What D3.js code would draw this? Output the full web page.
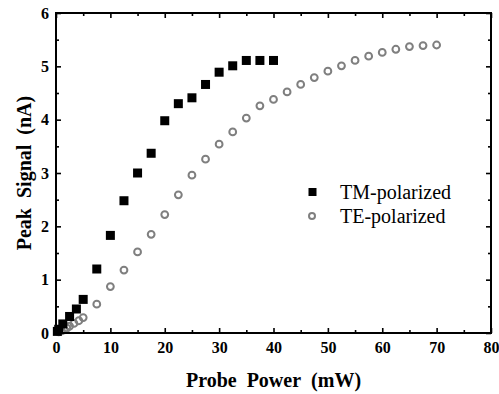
<!DOCTYPE html>
<html>
<head>
<meta charset="utf-8">
<script src="https://cdn.jsdelivr.net/npm/d3@7"></script>
</head>
<body style="margin:0">
<svg id="chart" width="499" height="394"></svg>
<script>
// ---- data ----
const tmPower  = [0.25, 0.5, 1.25, 2.5, 3.75, 5, 7.5, 10, 12.5, 15, 17.5, 20, 22.5, 25, 27.5, 30, 32.5, 35, 37.5, 40];
const tmSignal = [0.03, 0.07, 0.17, 0.31, 0.45, 0.63, 1.20, 1.83, 2.48, 3.00, 3.37, 3.98, 4.30, 4.41, 4.66, 4.89, 5.01, 5.11, 5.11, 5.11];
const tePower  = [0.5, 1, 1.5, 2, 2.5, 3.3, 4.2, 5, 7.5, 10, 12.5, 15, 17.5, 20, 22.5, 25, 27.5, 30, 32.5, 35, 37.5, 40, 42.5, 45, 47.5, 50, 52.5, 55, 57.5, 60, 62.5, 65, 67.5, 70];
const teSignal = [0.02, 0.04, 0.06, 0.09, 0.13, 0.18, 0.23, 0.29, 0.54, 0.87, 1.18, 1.52, 1.85, 2.22, 2.59, 2.96, 3.26, 3.54, 3.77, 4.03, 4.26, 4.38, 4.52, 4.66, 4.79, 4.91, 5.01, 5.11, 5.19, 5.26, 5.32, 5.37, 5.39, 5.40];
const xMajorTicks = [0, 10, 20, 30, 40, 50, 60, 70, 80];
const xMinorTicks = [5, 15, 25, 35, 45, 55, 65, 75];
const yMajorTicks = [0, 1, 2, 3, 4, 5, 6];
const yMinorTicks = [0.5, 1.5, 2.5, 3.5, 4.5, 5.5];
const seriesNames = ["TM-polarized", "TE-polarized"];
const xTitle = "Probe\u00A0\u00A0Power\u00A0\u00A0(mW)";
const yTitle = "Peak\u00A0\u00A0Signal\u00A0\u00A0(nA)";

// ---- layout ----
const FONT = "Liberation Serif";
const L = 56, R = 491, T = 13, B = 333;
const svg = d3.select("#chart");
const x = d3.scaleLinear().domain([0, 80]).range([L, R]);
const y = d3.scaleLinear().domain([0, 6]).range([B, T]);
const teColor = "#7f7f7f";

function serif(sel) {
  return sel.attr("font-family", FONT).style("font-family", FONT, "important");
}

// markers
svg.append("g").selectAll("circle").data(tePower).join("circle")
  .attr("cx", (d) => x(d))
  .attr("cy", (d, i) => y(teSignal[i]))
  .attr("r", 3.4)
  .attr("fill", "none")
  .attr("stroke", teColor)
  .attr("stroke-width", 2);

const sq = 9;
svg.append("g").selectAll("rect").data(tmPower).join("rect")
  .attr("x", (d) => x(d) - sq / 2)
  .attr("y", (d, i) => y(tmSignal[i]) - sq / 2)
  .attr("width", sq).attr("height", sq)
  .attr("fill", "#000");

// axes
function styleAxis(g) {
  serif(g);
  g.select(".domain").remove();
  g.selectAll(".tick line").attr("stroke", "#000").attr("stroke-width", 1.6);
  serif(g.selectAll("text")).attr("fill", "#000")
    .style("font-size", "16px").style("font-weight", "bold");
}
svg.append("g").attr("transform", `translate(0,${B})`)
  .call(d3.axisBottom(x).tickValues(xMajorTicks).tickFormat(d3.format("d")).tickSizeInner(-5).tickSizeOuter(0).tickPadding(9))
  .call(styleAxis);
svg.append("g").attr("transform", `translate(0,${B})`)
  .call(d3.axisBottom(x).tickValues(xMinorTicks).tickFormat("").tickSizeInner(-3).tickSizeOuter(0))
  .call(styleAxis);
svg.append("g").attr("transform", `translate(0,${T})`)
  .call(d3.axisTop(x).tickValues(xMajorTicks).tickFormat("").tickSizeInner(-5).tickSizeOuter(0))
  .call(styleAxis);
svg.append("g").attr("transform", `translate(0,${T})`)
  .call(d3.axisTop(x).tickValues(xMinorTicks).tickFormat("").tickSizeInner(-3).tickSizeOuter(0))
  .call(styleAxis);
svg.append("g").attr("transform", `translate(${L},0)`)
  .call(d3.axisLeft(y).tickValues(yMajorTicks).tickFormat(d3.format("d")).tickSizeInner(-5).tickSizeOuter(0).tickPadding(7))
  .call(styleAxis);
svg.append("g").attr("transform", `translate(${L},0)`)
  .call(d3.axisLeft(y).tickValues(yMinorTicks).tickFormat("").tickSizeInner(-3).tickSizeOuter(0))
  .call(styleAxis);
svg.append("g").attr("transform", `translate(${R},0)`)
  .call(d3.axisRight(y).tickValues(yMajorTicks).tickFormat("").tickSizeInner(-5).tickSizeOuter(0))
  .call(styleAxis);
svg.append("g").attr("transform", `translate(${R},0)`)
  .call(d3.axisRight(y).tickValues(yMinorTicks).tickFormat("").tickSizeInner(-3).tickSizeOuter(0))
  .call(styleAxis);

// frame
svg.append("rect").attr("x", L).attr("y", T).attr("width", R - L).attr("height", B - T)
  .attr("fill", "none").attr("stroke", "#000").attr("stroke-width", 2);

// titles
serif(svg.append("text")).attr("x", (L + R) / 2).attr("y", 387)
  .attr("text-anchor", "middle").style("font-size", "20px").style("font-weight", "bold").text(xTitle);
serif(svg.append("text")).attr("transform", `translate(31,${(T + B) / 2}) rotate(-90)`)
  .attr("text-anchor", "middle").style("font-size", "20px").style("font-weight", "bold").text(yTitle);

// legend
const lg = svg.append("g");
lg.append("rect").attr("x", 312.5 - 4).attr("y", 192 - 4).attr("width", 8).attr("height", 8).attr("fill", "#000");
lg.append("circle").attr("cx", 312).attr("cy", 216).attr("r", 3).attr("fill", "none").attr("stroke", teColor).attr("stroke-width", 2);
serif(lg.append("text")).attr("x", 340).attr("y", 199).style("font-size", "20px").style("font-weight", "normal").text(seriesNames[0]);
serif(lg.append("text")).attr("x", 340).attr("y", 223).style("font-size", "20px").style("font-weight", "normal").text(seriesNames[1]);
</script>
</body>
</html>
